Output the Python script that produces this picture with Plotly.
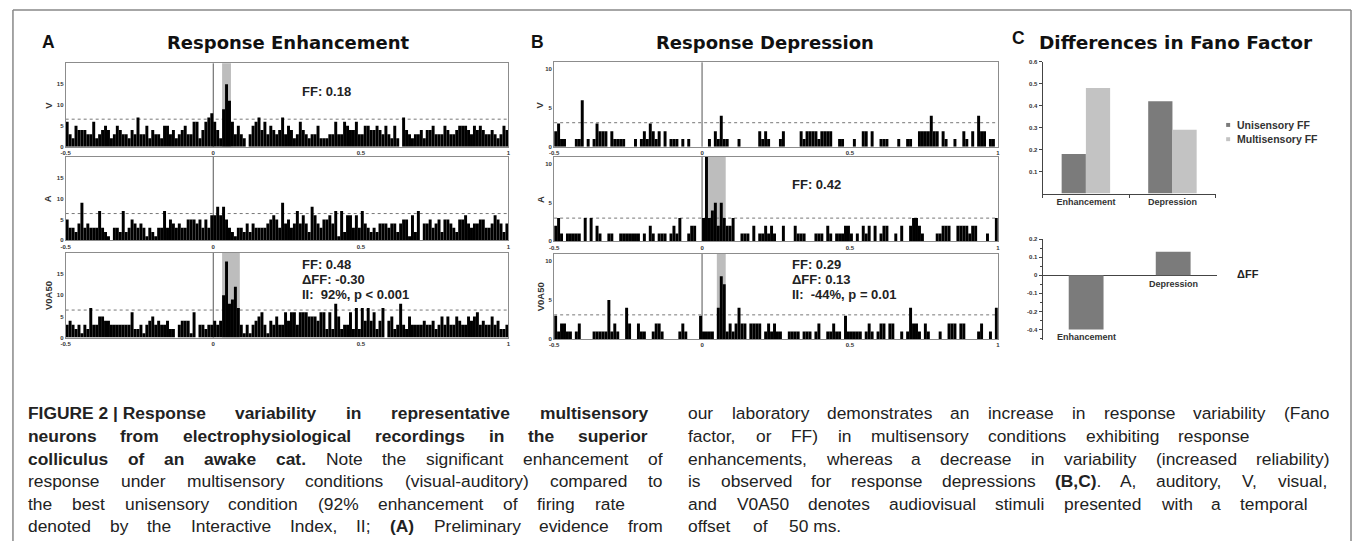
import subprocess
import plotly.graph_objects as go

W, H = 1355, 544

# ---------------- data ----------------
BIN_START = -0.5
BIN_WIDTH = 0.01
X_TICKS = [-0.5, 0, 0.5, 1]
X_TICK_TEXT = ["-0.5", "0", "0.5", "1"]

A_V = [
    6, 3, 2, 5, 4, 4, 4, 3, 3, 6,
    2, 3, 4, 5, 4, 2, 3, 5, 4, 3,
    3, 2, 4, 3, 7, 3, 3, 5, 2, 4,
    3, 3, 2, 5, 5, 3, 4, 2, 3, 4,
    5, 3, 3, 6, 6, 2, 4, 6, 7, 8,
    6, 4, 2, 9, 15, 11, 6, 3, 5, 3,
    2, 0, 3, 5, 6, 7, 4, 6, 3, 5,
    4, 3, 4, 7, 3, 5, 4, 2, 3, 6,
    4, 3, 2, 3, 3, 5, 2, 2, 2, 3,
    3, 6, 3, 3, 6, 5, 4, 4, 6, 3,
    3, 5, 5, 4, 4, 5, 4, 3, 5, 3,
    2, 5, 2, 0, 7, 4, 3, 2, 3, 3,
    4, 2, 4, 4, 5, 3, 3, 3, 5, 4,
    3, 3, 4, 5, 5, 5, 4, 3, 5, 4,
    5, 4, 3, 3, 4, 3, 2, 3, 5, 4,
]
A_A = [
    5, 3, 3, 2, 4, 9, 3, 4, 3, 3,
    3, 7, 3, 2, 1, 0, 3, 3, 2, 7,
    2, 3, 5, 4, 3, 4, 3, 1, 3, 2,
    1, 3, 3, 7, 3, 5, 4, 3, 4, 3,
    3, 5, 5, 5, 4, 5, 3, 5, 3, 6,
    6, 8, 6, 8, 5, 3, 2, 1, 3, 3,
    2, 4, 2, 4, 3, 3, 3, 3, 4, 5,
    6, 5, 3, 9, 4, 5, 3, 4, 7, 4,
    6, 4, 2, 8, 6, 4, 3, 5, 5, 6,
    4, 7, 1, 7, 2, 6, 6, 3, 6, 3,
    7, 4, 3, 2, 3, 2, 4, 4, 4, 3,
    4, 4, 2, 4, 5, 5, 1, 6, 2, 7,
    0, 4, 4, 5, 3, 4, 5, 2, 5, 5,
    4, 3, 2, 5, 5, 6, 4, 3, 4, 4,
    5, 5, 3, 3, 4, 6, 5, 4, 2, 4,
]
A_V0A50 = [
    3, 4, 3, 2, 3, 1, 3, 2, 7, 3,
    3, 5, 5, 4, 4, 3, 3, 3, 3, 3,
    3, 3, 6, 2, 2, 3, 1, 3, 4, 5,
    3, 4, 3, 3, 4, 2, 2, 0, 3, 4,
    4, 4, 1, 6, 0, 3, 3, 2, 3, 3,
    4, 3, 4, 10, 18, 8, 9, 12, 7, 3,
    1, 3, 1, 3, 4, 5, 6, 3, 1, 4,
    3, 5, 3, 3, 6, 4, 6, 6, 3, 6,
    6, 6, 5, 5, 5, 4, 6, 6, 2, 6,
    2, 8, 5, 2, 3, 3, 6, 2, 7, 2,
    7, 4, 7, 4, 6, 2, 4, 7, 0, 4,
    5, 2, 3, 8, 3, 2, 5, 3, 3, 3,
    3, 4, 3, 3, 4, 2, 3, 5, 3, 5,
    3, 3, 5, 4, 3, 3, 5, 4, 5, 6,
    3, 4, 3, 3, 5, 3, 4, 2, 2, 3,
]
B_V = [
    2, 3, 1, 1, 0, 0, 0, 1, 1, 6,
    0, 1, 0, 1, 3, 2, 2, 2, 0, 2,
    1, 1, 1, 1, 0, 0, 0, 1, 0, 1,
    2, 1, 3, 2, 1, 2, 0, 2, 0, 1,
    1, 1, 0, 1, 0, 1, 0, 0, 0, 0,
    0, 0, 1, 0, 2, 1, 4, 1, 1, 0,
    0, 0, 1, 0, 0, 0, 0, 0, 0, 2,
    1, 2, 1, 0, 0, 0, 1, 2, 0, 0,
    0, 0, 0, 2, 1, 2, 2, 2, 2, 1,
    2, 2, 2, 2, 0, 0, 1, 1, 0, 0,
    0, 1, 0, 0, 2, 2, 0, 2, 0, 0,
    1, 1, 1, 0, 0, 0, 1, 0, 0, 1,
    1, 0, 0, 2, 2, 2, 2, 4, 2, 2,
    0, 2, 1, 0, 0, 1, 0, 0, 2, 1,
    0, 2, 0, 4, 2, 2, 0, 1, 1, 0,
]
B_A = [
    2, 3, 1, 0, 1, 1, 1, 1, 1, 0,
    3, 0, 3, 0, 2, 1, 0, 0, 1, 1,
    0, 0, 1, 1, 1, 1, 1, 1, 1, 0,
    1, 0, 2, 1, 0, 1, 1, 1, 0, 1,
    2, 1, 3, 0, 0, 1, 2, 2, 0, 0,
    3, 11, 3, 4, 5, 2, 5, 3, 2, 2,
    3, 0, 0, 1, 1, 1, 0, 2, 0, 1,
    1, 2, 1, 2, 1, 0, 0, 2, 0, 0,
    0, 2, 1, 1, 1, 0, 0, 0, 1, 1,
    1, 0, 2, 1, 0, 1, 1, 1, 2, 2,
    1, 0, 1, 0, 2, 1, 2, 0, 2, 0,
    1, 2, 2, 0, 0, 1, 0, 2, 0, 0,
    2, 3, 3, 2, 1, 0, 0, 0, 0, 1,
    1, 2, 2, 2, 0, 0, 2, 2, 2, 2,
    1, 2, 2, 0, 0, 0, 1, 0, 0, 3,
]
B_V0A50 = [
    3, 1, 2, 2, 1, 1, 0, 1, 2, 0,
    0, 0, 0, 1, 1, 1, 1, 1, 5, 1,
    2, 1, 0, 0, 4, 2, 0, 0, 2, 1,
    1, 0, 0, 1, 2, 2, 1, 0, 0, 0,
    0, 0, 1, 2, 1, 0, 0, 0, 0, 3,
    1, 1, 1, 1, 0, 4, 8, 7, 1, 2,
    1, 2, 4, 2, 2, 0, 2, 2, 2, 2,
    0, 1, 2, 1, 2, 1, 1, 0, 0, 1,
    1, 1, 1, 0, 1, 1, 1, 0, 1, 2,
    0, 0, 1, 1, 2, 1, 1, 0, 3, 1,
    1, 1, 1, 1, 0, 1, 2, 1, 0, 1,
    2, 2, 0, 2, 2, 0, 0, 1, 0, 1,
    4, 2, 2, 1, 0, 2, 1, 0, 0, 0,
    1, 0, 0, 2, 2, 2, 0, 2, 2, 0,
    0, 0, 0, 1, 2, 0, 0, 1, 0, 4,
]

ROW_LABELS = ["V", "A", "V0A50"]
THRESH_A = [6.6, 6.4, 6.5]
THRESH_B = [3.1, 3.0, 3.1]
WINDOW_A = [(0.03, 0.06), None, (0.03, 0.09)]
WINDOW_B = [None, (0.01, 0.08), (0.05, 0.08)]
YTICKS_A = [0, 5, 10, 15]
YTICKS_B = [0, 5, 10]

FF_CATEGORIES = ["Enhancement", "Depression"]
UNISENSORY_FF = [0.18, 0.42]
MULTISENSORY_FF = [0.48, 0.29]
DELTA_FF = [-0.30, 0.13]
FF_TICKS = [0.1, 0.2, 0.3, 0.4, 0.5, 0.6]
FF_TICK_TEXT = ["0.1", "0.2", "0.3", "0.4", "0.5", "0.6"]
DFF_TICKS = [0.2, 0.1, 0, -0.1, -0.2, -0.3]
DFF_TICK_TEXT = ["0.2", "0.1", "0", "-0.1", "-0.2", "-0.4"]
DFF_MINOR = [0.15, 0.05, -0.05, -0.15, -0.25, -0.35]

TEXT_A_V = ["FF: 0.18"]
TEXT_A_VA = ["FF: 0.48", "\u0394FF: -0.30", "II:\u00a0 92%, p &lt; 0.001"]
TEXT_B_A = ["FF: 0.42"]
TEXT_B_VA = ["FF: 0.29", "\u0394FF: 0.13", "II:\u00a0 -44%, p = 0.01"]

LEFT_LINES = [
    [("FIGURE\u00a02\u00a0|\u00a0Response variability in representative multisensory", True)],
    [("neurons from electrophysiological recordings in the superior", True)],
    [("colliculus of an awake cat.", True), (" Note the significant enhancement of", False)],
    [("response under multisensory conditions (visual-auditory) compared to", False)],
    [("the best unisensory condition (92% enhancement of firing rate", False)],
    [("denoted by the Interactive Index, II; ", False), ("(A)", True), (" Preliminary evidence from", False)],
]
RIGHT_LINES = [
    [("our laboratory demonstrates an increase in response variability (Fano", False)],
    [("factor, or FF) in multisensory conditions exhibiting response", False)],
    [("enhancements, whereas a decrease in variability (increased reliability)", False)],
    [("is observed for response depressions ", False), ("(B,C)", True), (". A, auditory, V, visual,", False)],
    [("and V0A50 denotes audiovisual stimuli presented with a temporal", False)],
    [("offset of 50\u00a0ms.", False)],
]

# ---------------- helpers ----------------
def fx(x):
    return x / W


def fy(y):
    return 1 - y / H


def has_font(name):
    try:
        out = subprocess.run(["fc-list", ":", "family"], capture_output=True,
                             text=True, timeout=20).stdout
        return name.lower() in out.lower()
    except Exception:
        return False


REG = {' ': 278, '\u00a0': 278, '!': 278, '(': 333, ')': 333, ',': 278, '-': 333, '.': 278,
       '%': 889, ';': 278, ':': 278, '|': 260}
BOLD = {' ': 278, '\u00a0': 278, '!': 333, '(': 333, ')': 333, ',': 278, '-': 333, '.': 278,
        '%': 889, ';': 333, ':': 333, '|': 280}
for d in "0123456789":
    REG[d] = 556
    BOLD[d] = 556
for c, w in zip("ABCDEFGHIJKLMNOPQRSTUVWXYZ",
                [667, 667, 722, 722, 667, 611, 778, 722, 278, 500, 667, 556, 833, 722, 778, 667, 778, 722, 667, 611, 722, 667, 944, 667, 667, 611]):
    REG[c] = w
for c, w in zip("abcdefghijklmnopqrstuvwxyz",
                [556, 556, 500, 556, 556, 278, 556, 556, 222, 222, 500, 222, 833, 556, 556, 556, 556, 333, 500, 278, 556, 500, 722, 500, 500, 500]):
    REG[c] = w
for c, w in zip("ABCDEFGHIJKLMNOPQRSTUVWXYZ",
                [722, 722, 722, 722, 667, 611, 778, 722, 278, 556, 722, 611, 833, 722, 778, 667, 778, 722, 667, 611, 722, 667, 944, 667, 667, 611]):
    BOLD[c] = w
for c, w in zip("abcdefghijklmnopqrstuvwxyz",
                [556, 611, 556, 611, 556, 333, 611, 611, 278, 278, 556, 278, 889, 611, 611, 611, 611, 389, 556, 333, 611, 556, 778, 556, 556, 500]):
    BOLD[c] = w

if has_font("Liberation Sans Narrow"):
    CAP_FAMILY = "Liberation Sans Narrow"
    CAP_FS = 21.0
    CAP_WIDTH = 0.82
else:
    CAP_FAMILY = "Liberation Sans, Arial, sans-serif"
    CAP_FS = 17.4
    CAP_WIDTH = 1.0


def tokens(runs):
    chars = []
    for text, bold in runs:
        for ch in text:
            chars.append((ch, bold))
    words, cur = [], []
    for ch, b in chars:
        if ch == ' ':
            if cur:
                words.append(cur)
            cur = []
        else:
            cur.append((ch, b))
    if cur:
        words.append(cur)
    out = []
    for wd in words:
        width = sum((BOLD if b else REG).get(ch, 556) for ch, b in wd) * CAP_FS * CAP_WIDTH / 1000.0
        html, seg, segb = "", "", None
        for ch, b in wd:
            if segb is None or b == segb:
                seg += ch
                segb = b
            else:
                html += ("<b>%s</b>" % seg) if segb else seg
                seg, segb = ch, b
        html += ("<b>%s</b>" % seg) if segb else seg
        out.append((html, width))
    return out


# ---------------- figure ----------------
fig = go.Figure()
layout = dict(
    width=W, height=H, margin=dict(l=0, r=0, t=0, b=0),
    paper_bgcolor="white", plot_bgcolor="rgba(0,0,0,0)",
    showlegend=False, bargap=0.44, bargroupgap=0, barmode="group",
    font=dict(family="Liberation Sans, Arial, sans-serif", color="#222"),
)
shapes, annotations = [], []

PANEL_X = {"A": (61, 506), "B": (552, 998)}
PANEL_ROWS = {"A": [(61, 145.3), (155.3, 240), (252.7, 338.3)],
              "B": [(60, 145.3), (155.7, 241), (253.3, 340)]}
PANEL_TITLE_X = {"A": 43, "B": 537.7}

hist_specs = [
    ("A", 0, A_V, THRESH_A[0], WINDOW_A[0], [0, 20], YTICKS_A),
    ("A", 1, A_A, THRESH_A[1], WINDOW_A[1], [0, 20], YTICKS_A),
    ("A", 2, A_V0A50, THRESH_A[2], WINDOW_A[2], [0, 20], YTICKS_A),
    ("B", 0, B_V, THRESH_B[0], WINDOW_B[0], [0, 10.9], YTICKS_B),
    ("B", 1, B_A, THRESH_B[1], WINDOW_B[1], [0, 10.9], YTICKS_B),
    ("B", 2, B_V0A50, THRESH_B[2], WINDOW_B[2], [0, 10.9], YTICKS_B),
]

for k, (panel, row, series, thr, win, yr, yt) in enumerate(hist_specs, start=1):
    s = "" if k == 1 else str(k)
    x0, x1 = PANEL_X[panel]
    y0, y1 = PANEL_ROWS[panel][row]
    centers = [BIN_START + BIN_WIDTH * (i + 0.5) for i in range(len(series))]
    fig.add_trace(go.Bar(x=centers, y=series, width=BIN_WIDTH,
                         marker=dict(color="black", line=dict(width=0)),
                         xaxis="x" + s, yaxis="y" + s, hoverinfo="skip"))
    axis_common = dict(showline=True, mirror=True, linecolor="#8c8c8c", linewidth=1,
                       showgrid=False, zeroline=False, ticks="",
                       tickfont=dict(size=6, color="#333", weight="bold"))
    layout["xaxis" + s] = dict(domain=[fx(x0), fx(x1)], range=[-0.5, 1.0], anchor="y" + s,
                               tickvals=X_TICKS, ticktext=X_TICK_TEXT, **axis_common)
    layout["yaxis" + s] = dict(domain=[fy(y1), fy(y0)], range=yr, anchor="x" + s,
                               tickvals=yt, ticktext=[str(v) for v in yt], **axis_common)
    if win is not None:
        shapes.append(dict(type="rect", xref="x" + s, yref="y" + s + " domain",
                           x0=win[0], x1=win[1], y0=0, y1=1,
                           fillcolor="#bdbdbd", line=dict(width=0), layer="below"))
    shapes.append(dict(type="line", xref="x" + s, yref="y" + s + " domain",
                       x0=0, x1=0, y0=0, y1=1, line=dict(color="#555", width=1), layer="below"))
    shapes.append(dict(type="line", xref="x" + s + " domain", yref="y" + s,
                       x0=0, x1=1, y0=thr, y1=thr,
                       line=dict(color="#777", width=1, dash="dot"), layer="below"))
    annotations.append(dict(x=fx(PANEL_TITLE_X[panel]), y=fy((y0 + y1) / 2), xref="paper", yref="paper",
                            text=ROW_LABELS[row], textangle=-90, showarrow=False,
                            xanchor="center", yanchor="middle",
                            font=dict(size=9.5, color="#333", weight="bold")))


def add_lines(lines, xpx, ypx_list):
    for t, ypx in zip(lines, ypx_list):
        annotations.append(dict(x=fx(xpx), y=fy(ypx), xref="paper", yref="paper", text=t,
                                showarrow=False, xanchor="left", yanchor="middle",
                                font=dict(size=13, color="#222", weight="bold")))


add_lines(TEXT_A_V, 297, [89])
add_lines(TEXT_A_VA, 297, [264, 279.3, 294.3])
add_lines(TEXT_B_A, 789, [184])
add_lines(TEXT_B_VA, 789, [264, 279.3, 294.3])

# ---- panel C top
fig.add_trace(go.Bar(x=FF_CATEGORIES, y=UNISENSORY_FF, name="Unisensory FF",
                     marker=dict(color="#7b7b7b", line=dict(width=0)),
                     xaxis="x7", yaxis="y7", hoverinfo="skip"))
fig.add_trace(go.Bar(x=FF_CATEGORIES, y=MULTISENSORY_FF, name="Multisensory FF",
                     marker=dict(color="#c3c3c3", line=dict(width=0)),
                     xaxis="x7", yaxis="y7", hoverinfo="skip"))
layout["xaxis7"] = dict(domain=[fx(1043), fx(1217)], anchor="y7", type="category",
                        showline=True, linecolor="#444", linewidth=1, ticks="outside",
                        tickson="boundaries", ticklen=3, tickcolor="#444", showgrid=False,
                        tickfont=dict(size=9, color="#333", weight="bold"))
layout["yaxis7"] = dict(domain=[fy(192.7), fy(59.3)], anchor="x7", range=[0, 0.6],
                        showline=True, linecolor="#444", linewidth=1, ticks="outside",
                        ticklen=3, tickcolor="#444", showgrid=False, zeroline=False,
                        tickvals=FF_TICKS, ticktext=FF_TICK_TEXT,
                        tickfont=dict(size=6, color="#333", weight="bold"))

for label, color, ypx in [("Unisensory FF", "#7b7b7b", 123.3), ("Multisensory FF", "#c3c3c3", 137.7)]:
    shapes.append(dict(type="rect", xref="paper", yref="paper",
                       x0=fx(1227.5), x1=fx(1231.5), y0=fy(ypx + 2), y1=fy(ypx - 2),
                       fillcolor=color, line=dict(width=0)))
    annotations.append(dict(x=fx(1236), y=fy(ypx), xref="paper", yref="paper", text=label,
                            showarrow=False, xanchor="left", yanchor="middle",
                            font=dict(size=10.5, color="#333", weight="bold")))

# ---- panel C bottom
fig.add_trace(go.Bar(x=FF_CATEGORIES, y=DELTA_FF, width=0.4,
                     marker=dict(color="#7b7b7b", line=dict(width=0)),
                     xaxis="x8", yaxis="y8", hoverinfo="skip"))
layout["xaxis8"] = dict(domain=[fx(1043), fx(1218)], anchor="y8", type="category",
                        range=[-0.5, 1.5], showline=False, showticklabels=False, ticks="",
                        showgrid=False)
layout["yaxis8"] = dict(domain=[fy(341.2), fy(238.7)], anchor="x8", range=[-0.36, 0.2],
                        showline=True, linecolor="#444", linewidth=1, ticks="outside",
                        ticklen=3, tickcolor="#444", showgrid=False,
                        zeroline=True, zerolinecolor="#444", zerolinewidth=1,
                        tickvals=DFF_TICKS, ticktext=DFF_TICK_TEXT,
                        minor=dict(tickvals=DFF_MINOR, ticks="outside", ticklen=2, tickcolor="#444"),
                        tickfont=dict(size=6, color="#333", weight="bold"))
annotations.append(dict(xref="x8", yref="y8", x=FF_CATEGORIES[0], y=DELTA_FF[0], text=FF_CATEGORIES[0],
                        showarrow=False, xanchor="center", yanchor="top", yshift=0,
                        font=dict(size=9, color="#333", weight="bold")))
annotations.append(dict(xref="x8", yref="y8", x=FF_CATEGORIES[1], y=0, text=FF_CATEGORIES[1],
                        showarrow=False, xanchor="center", yanchor="top", yshift=-2,
                        font=dict(size=9, color="#333", weight="bold")))
annotations.append(dict(x=fx(1236), y=fy(274), xref="paper", yref="paper", text="\u0394FF",
                        showarrow=False, xanchor="left", yanchor="middle",
                        font=dict(size=11, color="#222", weight="bold")))

# ---- panel letters and titles
TITLE_FONT = "DejaVu Sans, Liberation Sans, sans-serif"
for txt, xc, yc, size in [("A", 43.5, 39, 17.5), ("B", 535, 39, 17.5), ("C", 1018.5, 35, 17.5)]:
    annotations.append(dict(x=fx(xc), y=fy(yc), xref="paper", yref="paper", text=txt,
                            showarrow=False, xanchor="center", yanchor="middle",
                            font=dict(size=size, color="#111", weight="bold",
                                      family="Liberation Sans, Arial, sans-serif")))
for txt, xc, yc, size in [("Response Enhancement", 285, 40, 18),
                          ("Response Depression", 764, 40, 18),
                          ("Differences in Fano Factor", 1177, 40, 18.5)]:
    annotations.append(dict(x=fx(xc), y=fy(yc), xref="paper", yref="paper", text=txt,
                            showarrow=False, xanchor="center", yanchor="middle",
                            font=dict(size=size, color="#111", weight="bold", family=TITLE_FONT)))

# ---- frame
for x0, y0, x1, y1 in [(8, 7, 1353, 7), (8, 7, 8, 544), (1353, 7, 1353, 544)]:
    shapes.append(dict(type="line", xref="paper", yref="paper", x0=fx(x0), y0=fy(y0),
                       x1=fx(x1), y1=fy(y1), line=dict(color="#888", width=1.5)))

# ---- caption (justified, word by word)
LEFT_BOUNDS = [(22, 645), (22, 645), (22, 660), (22, 660), (22, 622), (22, 660)]
RIGHT_BOUNDS = [(686, 1330), (686, 1250), (686, 1330), (686, 1328), (686, 1308), (686, 839)]
LINE_Y0, LINE_DY = 415, 22.8

for lines, bounds in [(LEFT_LINES, LEFT_BOUNDS), (RIGHT_LINES, RIGHT_BOUNDS)]:
    for i, (runs, (L, R)) in enumerate(zip(lines, bounds)):
        toks = tokens(runs)
        total = sum(w for _, w in toks)
        gap = (R - L - total) / (len(toks) - 1) if len(toks) > 1 else 0
        xpos = L
        for html, w in toks:
            annotations.append(dict(x=fx(xpos), y=fy(LINE_Y0 + i * LINE_DY), xref="paper", yref="paper",
                                    text=html, showarrow=False, xanchor="left", yanchor="middle",
                                    borderpad=0,
                                    font=dict(size=CAP_FS, color="#222", family=CAP_FAMILY)))
            xpos += w + gap

layout["shapes"] = shapes
layout["annotations"] = annotations
fig.update_layout(**layout)
fig.write_html("out.html")
